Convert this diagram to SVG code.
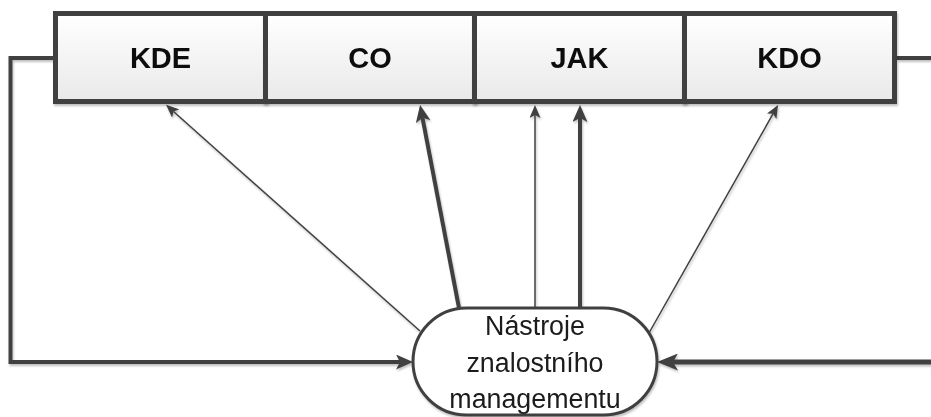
<svg xmlns="http://www.w3.org/2000/svg" width="931" height="417" viewBox="0 0 931 417">
  <style>
    .box { fill: url(#boxFill); stroke: #404040; stroke-width: 5; }
    .lbl { font-family: "Liberation Sans", Arial, sans-serif; font-weight: bold; font-size: 29px; fill: #111; text-anchor: middle; }
    .oval { fill: #ffffff; stroke: #404040; stroke-width: 3; }
    .otxt { font-family: "Liberation Sans", Arial, sans-serif; font-size: 26.8px; fill: #1a1a1a; text-anchor: middle; }
    .thin { stroke: #404040; stroke-width: 1.5; fill: none; marker-end: url(#headThin); }
    .thick { stroke: #404040; stroke-width: 4; fill: none; marker-end: url(#headThick); }
    .side { stroke: #404040; stroke-width: 4; fill: none; }
  </style>
  <defs>
    <linearGradient id="boxFill" x1="0" y1="0" x2="0" y2="1">
      <stop offset="0" stop-color="#ffffff"/>
      <stop offset="1" stop-color="#e9e9e9"/>
    </linearGradient>
    <filter id="shadow" x="-10%" y="-10%" width="120%" height="130%">
      <feDropShadow dx="1" dy="2" stdDeviation="1" flood-color="#000" flood-opacity="0.25"/>
    </filter>
    <marker id="headThin" markerUnits="userSpaceOnUse" markerWidth="13" markerHeight="11" refX="3" refY="5.5" orient="auto">
      <path d="M0,0 L13,5.5 L0,11 L3,5.5 z" fill="#404040"/>
    </marker>
    <marker id="headThick" markerUnits="userSpaceOnUse" markerWidth="17" markerHeight="15" refX="4" refY="7.5" orient="auto">
      <path d="M0,0 L17,7.5 L0,15 L4,7.5 z" fill="#404040"/>
    </marker>
    <marker id="headBig" markerUnits="userSpaceOnUse" markerWidth="21" markerHeight="17" refX="5" refY="8.5" orient="auto">
      <path d="M0,0 L21,8.5 L0,17 L5,8.5 z" fill="#404040"/>
    </marker>
  </defs>

  <!-- outer loop connectors and arrows up to the boxes -->
  <g id="connectors" filter="url(#shadow)">
    <path class="side" d="M53,58 H10.5 V362 H400" marker-end="url(#headThick)"/>
    <path class="side" d="M897,58 H931"/>
    <path class="side" style="stroke-width:5" d="M931,362 H673" marker-end="url(#headBig)"/>
    <line class="thin" x1="420" y1="331" x2="173.5" y2="111.5"/>
    <line class="thick" x1="459" y1="308" x2="422.5" y2="117.8"/>
    <line class="thin" x1="535" y1="308" x2="535" y2="115"/>
    <line class="thick" x1="580" y1="308" x2="580" y2="118"/>
    <line class="thin" x1="649" y1="333" x2="773.1" y2="113.7"/>
  </g>

  <!-- top row of category boxes -->
  <g id="kde" filter="url(#shadow)">
    <rect class="box" x="55.5" y="13.5" width="210" height="88"/>
    <text class="lbl" x="160.5" y="68">KDE</text>
  </g>
  <g id="co" filter="url(#shadow)">
    <rect class="box" x="265.5" y="13.5" width="209" height="88"/>
    <text class="lbl" x="370" y="68">CO</text>
  </g>
  <g id="jak" filter="url(#shadow)">
    <rect class="box" x="474.5" y="13.5" width="210" height="88"/>
    <text class="lbl" x="579.5" y="68">JAK</text>
  </g>
  <g id="kdo" filter="url(#shadow)">
    <rect class="box" x="684.5" y="13.5" width="210" height="88"/>
    <text class="lbl" x="789.5" y="68">KDO</text>
  </g>

  <!-- central tools node -->
  <g id="nastroje" filter="url(#shadow)">
    <rect class="oval" x="413" y="308" width="244" height="107" rx="53.5" ry="53.5"/>
    <text class="otxt" x="535" y="335">Nástroje</text>
    <text class="otxt" x="535" y="372">znalostního</text>
    <text class="otxt" x="535" y="408">managementu</text>
  </g>
</svg>
